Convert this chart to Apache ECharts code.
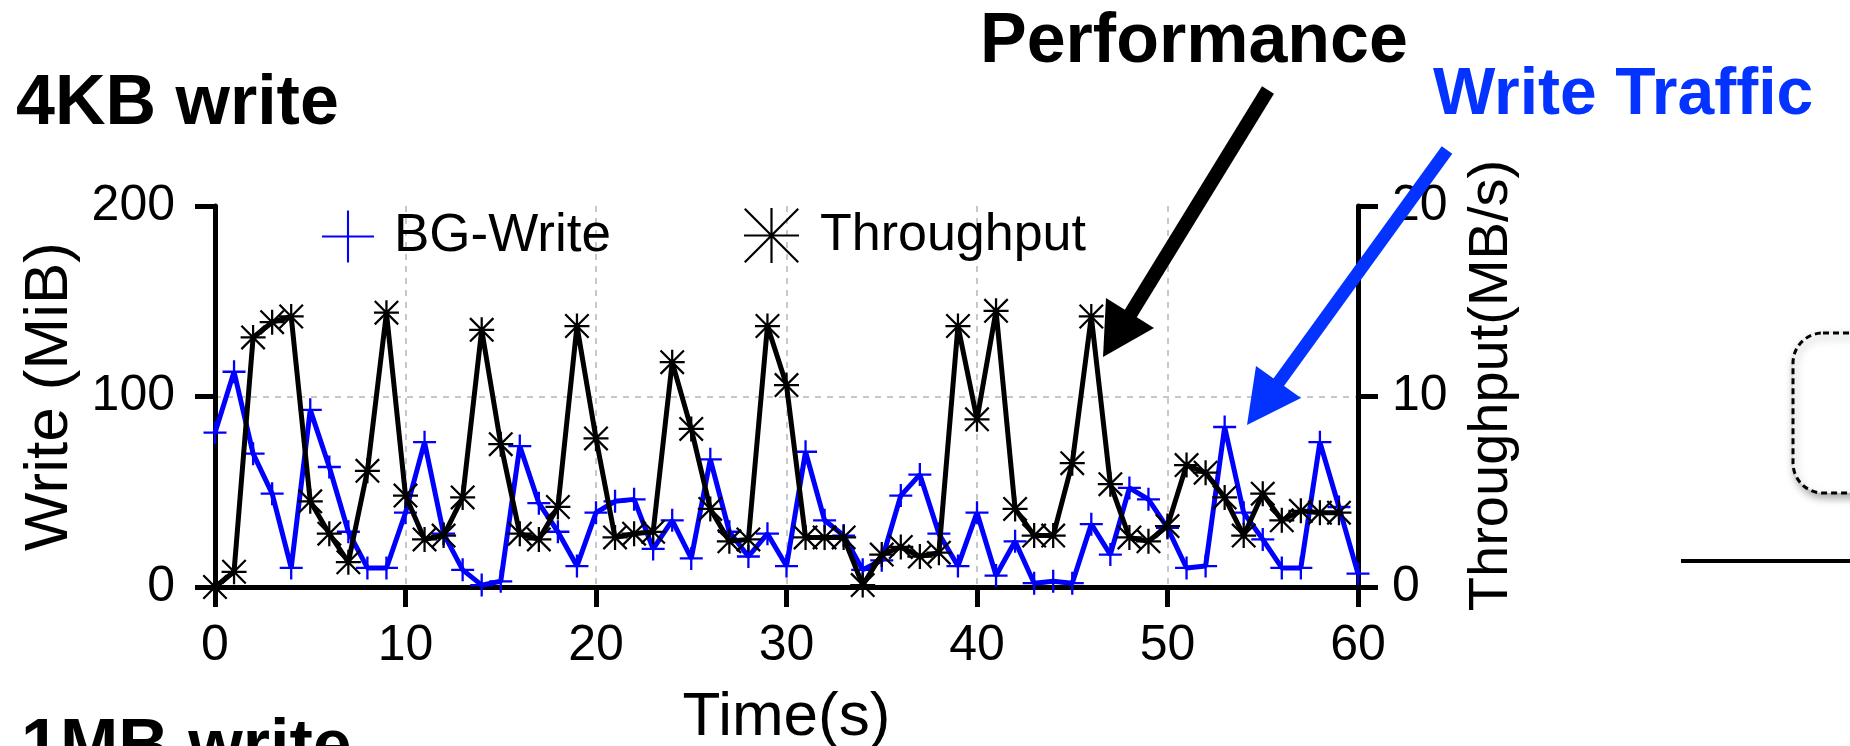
<!DOCTYPE html>
<html>
<head>
<meta charset="utf-8">
<script src="https://cdn.jsdelivr.net/npm/echarts@6/dist/echarts.min.js"></script>
<style>
  html, body { margin: 0; padding: 0; background: #fff; }
  #chart { width: 1850px; height: 746px; }
</style>
</head>
<body>
<div id="chart"></div>
<script>
// time axis (s)
const seconds = [0, 1, 2, 3, 4, 5, 6, 7, 8, 9, 10, 11, 12, 13, 14, 15, 16, 17, 18, 19,
  20, 21, 22, 23, 24, 25, 26, 27, 28, 29, 30, 31, 32, 33, 34, 35, 36, 37, 38, 39,
  40, 41, 42, 43, 44, 45, 46, 47, 48, 49, 50, 51, 52, 53, 54, 55, 56, 57, 58, 59, 60]

// background write traffic (MiB), left axis
const bgWrite = [81, 113, 70, 49, 10, 93, 63, 29, 10, 10,
  39, 76, 28, 9, 1, 3, 74, 44, 29, 11,
  39, 45, 46, 20, 35, 15, 67, 29, 16, 28,
  11, 71, 35, 27, 9, 14, 48, 59, 28, 11,
  39, 6, 24, 2, 3, 2, 33, 17, 52, 46,
  31, 10, 11, 84, 39, 25, 10, 10, 76, 42, 7]

// throughput (MB/s), right axis
const throughput = [0, 0.8, 13.1, 13.9, 14.2, 4.5, 2.8, 1.3, 6.1, 14.4,
  4.8, 2.5, 2.7, 4.7, 13.5, 7.5, 2.8, 2.5, 4.2, 13.7,
  7.8, 2.6, 2.8, 2.9, 11.8, 8.3, 4.1, 2.4, 2.5, 13.7,
  10.6, 2.6, 2.6, 2.6, 0.1, 1.7, 2.1, 1.6, 1.8, 13.7,
  8.8, 14.5, 4.1, 2.7, 2.7, 6.5, 14.2, 5.4, 2.6, 2.4,
  3.2, 6.4, 6.0, 4.7, 2.7, 4.9, 3.5, 4.0, 3.9, 3.9]

const FONT = '"Liberation Sans", Arial, Helvetica, sans-serif'
const BLUE = '#0000ff'
const ARROW_BLUE = '#0433ff'

const plusMark = 'path://M0,45H100V55H0Z M45,0H55V100H45Z'
const starMark = 'path://M0,45.5H100V54.5H0Z M45.5,0H54.5V100H45.5Z M0,6.4L6.4,0L100,93.6L93.6,100Z M93.6,0L100,6.4L6.4,100L0,93.6Z'
const plusIcon = 'path://M0,48H100V52H0Z M48,0H52V100H48Z'
const starIcon = 'path://M0,48H100V52H0Z M48,0H52V100H48Z M0,2.83L2.83,0L100,97.17L97.17,100Z M97.17,0L100,2.83L2.83,100L0,97.17Z'

const chart = echarts.init(document.getElementById('chart'))

const axisLabelStyle = { color: '#000', fontSize: 50, fontFamily: FONT }

const option = {
  animation: false,
  backgroundColor: '#fff',
  grid: { left: 215, right: 492, top: 206, bottom: 159, outerBoundsMode: 'none' },
  legend: [
    {
      left: 317, top: 205,
      itemWidth: 52, itemHeight: 52,
      data: [{ name: 'BG-Write', icon: plusIcon }],
      itemStyle: { borderWidth: 0 },
      textStyle: { color: '#000', fontSize: 53, fontFamily: FONT, padding: [0, 0, 0, 15] }
    },
    {
      left: 739, top: 203,
      itemWidth: 55, itemHeight: 55,
      data: [{ name: 'Throughput', icon: starIcon }],
      itemStyle: { borderWidth: 0 },
      textStyle: { color: '#000', fontSize: 52, fontFamily: FONT, padding: [0, 0, 0, 16] }
    }
  ],
  xAxis: {
    type: 'value',
    min: 0, max: 60, interval: 10,
    name: 'Time(s)',
    nameLocation: 'middle',
    nameGap: 100,
    nameTextStyle: { color: '#000', fontSize: 62, fontFamily: FONT },
    axisLine: { lineStyle: { color: '#000', width: 5 } },
    axisTick: { inside: false, length: 20, lineStyle: { color: '#000', width: 5 } },
    axisLabel: Object.assign({ margin: 34 }, axisLabelStyle),
    splitLine: { show: true, lineStyle: { color: '#c8c8c8', type: [6, 6], width: 2 } }
  },
  yAxis: [
    {
      type: 'value',
      min: 0, max: 200, interval: 100,
      name: 'Write (MiB)',
      nameLocation: 'middle',
      nameGap: 128,
      nameTextStyle: { color: '#000', fontSize: 62, fontFamily: FONT },
      axisLine: { show: true, lineStyle: { color: '#000', width: 5 } },
      axisTick: { show: true, inside: false, length: 20, lineStyle: { color: '#000', width: 5 } },
      axisLabel: Object.assign({ margin: 40 }, axisLabelStyle),
      splitLine: {
        show: true,
        lineStyle: { color: ['rgba(0,0,0,0)', '#c8c8c8', 'rgba(0,0,0,0)'], type: [6, 6], width: 2 }
      }
    },
    {
      type: 'value',
      position: 'right',
      min: 0, max: 20, interval: 10,
      name: 'Throughput(MB/s)',
      nameLocation: 'middle',
      nameGap: 106,
      nameTextStyle: { color: '#000', fontSize: 56, fontFamily: FONT, padding: [0, 0, 0, 22] },
      axisLine: { show: true, lineStyle: { color: '#000', width: 5 } },
      axisTick: { show: true, inside: false, length: 20, lineStyle: { color: '#000', width: 5 } },
      axisLabel: Object.assign({ margin: 34 }, axisLabelStyle),
      splitLine: { show: false }
    }
  ],
  series: [
    {
      name: 'BG-Write',
      type: 'line',
      yAxisIndex: 0,
      data: seconds.map((t, i) => [t, bgWrite[i]]),
      symbol: plusMark,
      symbolSize: 23,
      lineStyle: { color: BLUE, width: 5 },
      itemStyle: { color: BLUE, borderWidth: 0 },
      z: 3
    },
    {
      name: 'Throughput',
      type: 'line',
      yAxisIndex: 1,
      data: throughput.map((v, i) => [seconds[i], v]),
      symbol: starMark,
      symbolSize: 25,
      lineStyle: { color: '#000', width: 5 },
      itemStyle: { color: '#000', borderWidth: 0 },
      z: 4
    }
  ],
  graphic: [
    { type: 'text', left: 16, top: 70, style: { text: '4KB write', font: 'bold 70px ' + FONT, fill: '#000' } },
    { type: 'text', left: 21, top: 714, style: { text: '1MB write', font: 'bold 70px ' + FONT, fill: '#000' } },
    { type: 'text', left: 980, top: 8, style: { text: 'Performance', font: 'bold 70px ' + FONT, fill: '#000' } },
    { type: 'text', left: 1433, top: 63, style: { text: 'Write Traffic', font: 'bold 66px ' + FONT, fill: ARROW_BLUE } },
    // black arrow
    { type: 'line', shape: { x1: 1268, y1: 90, x2: 1128, y2: 318 }, style: { stroke: '#000', lineWidth: 14 }, z: 10 },
    { type: 'polygon', shape: { points: [[1103, 357], [1106, 298], [1154, 328]] }, style: { fill: '#000' }, z: 10 },
    // blue arrow
    { type: 'line', shape: { x1: 1447, y1: 150, x2: 1276, y2: 386 }, style: { stroke: ARROW_BLUE, lineWidth: 13 }, z: 10 },
    { type: 'polygon', shape: { points: [[1247, 425], [1256, 366], [1301, 398]] }, style: { fill: ARROW_BLUE }, z: 10 },
    // neighbouring panel pieces
    {
      type: 'rect',
      shape: { x: 1793, y: 333, width: 140, height: 160, r: 30 },
      style: { fill: '#fff', stroke: '#000', lineWidth: 3, lineDash: [6, 4], shadowBlur: 8, shadowColor: 'rgba(0,0,0,0.35)', shadowOffsetX: 2, shadowOffsetY: 4 }
    },
    { type: 'line', shape: { x1: 1681, y1: 561, x2: 1850, y2: 561 }, style: { stroke: '#000', lineWidth: 4 } }
  ]
}

chart.setOption(option)
</script>
</body>
</html>
